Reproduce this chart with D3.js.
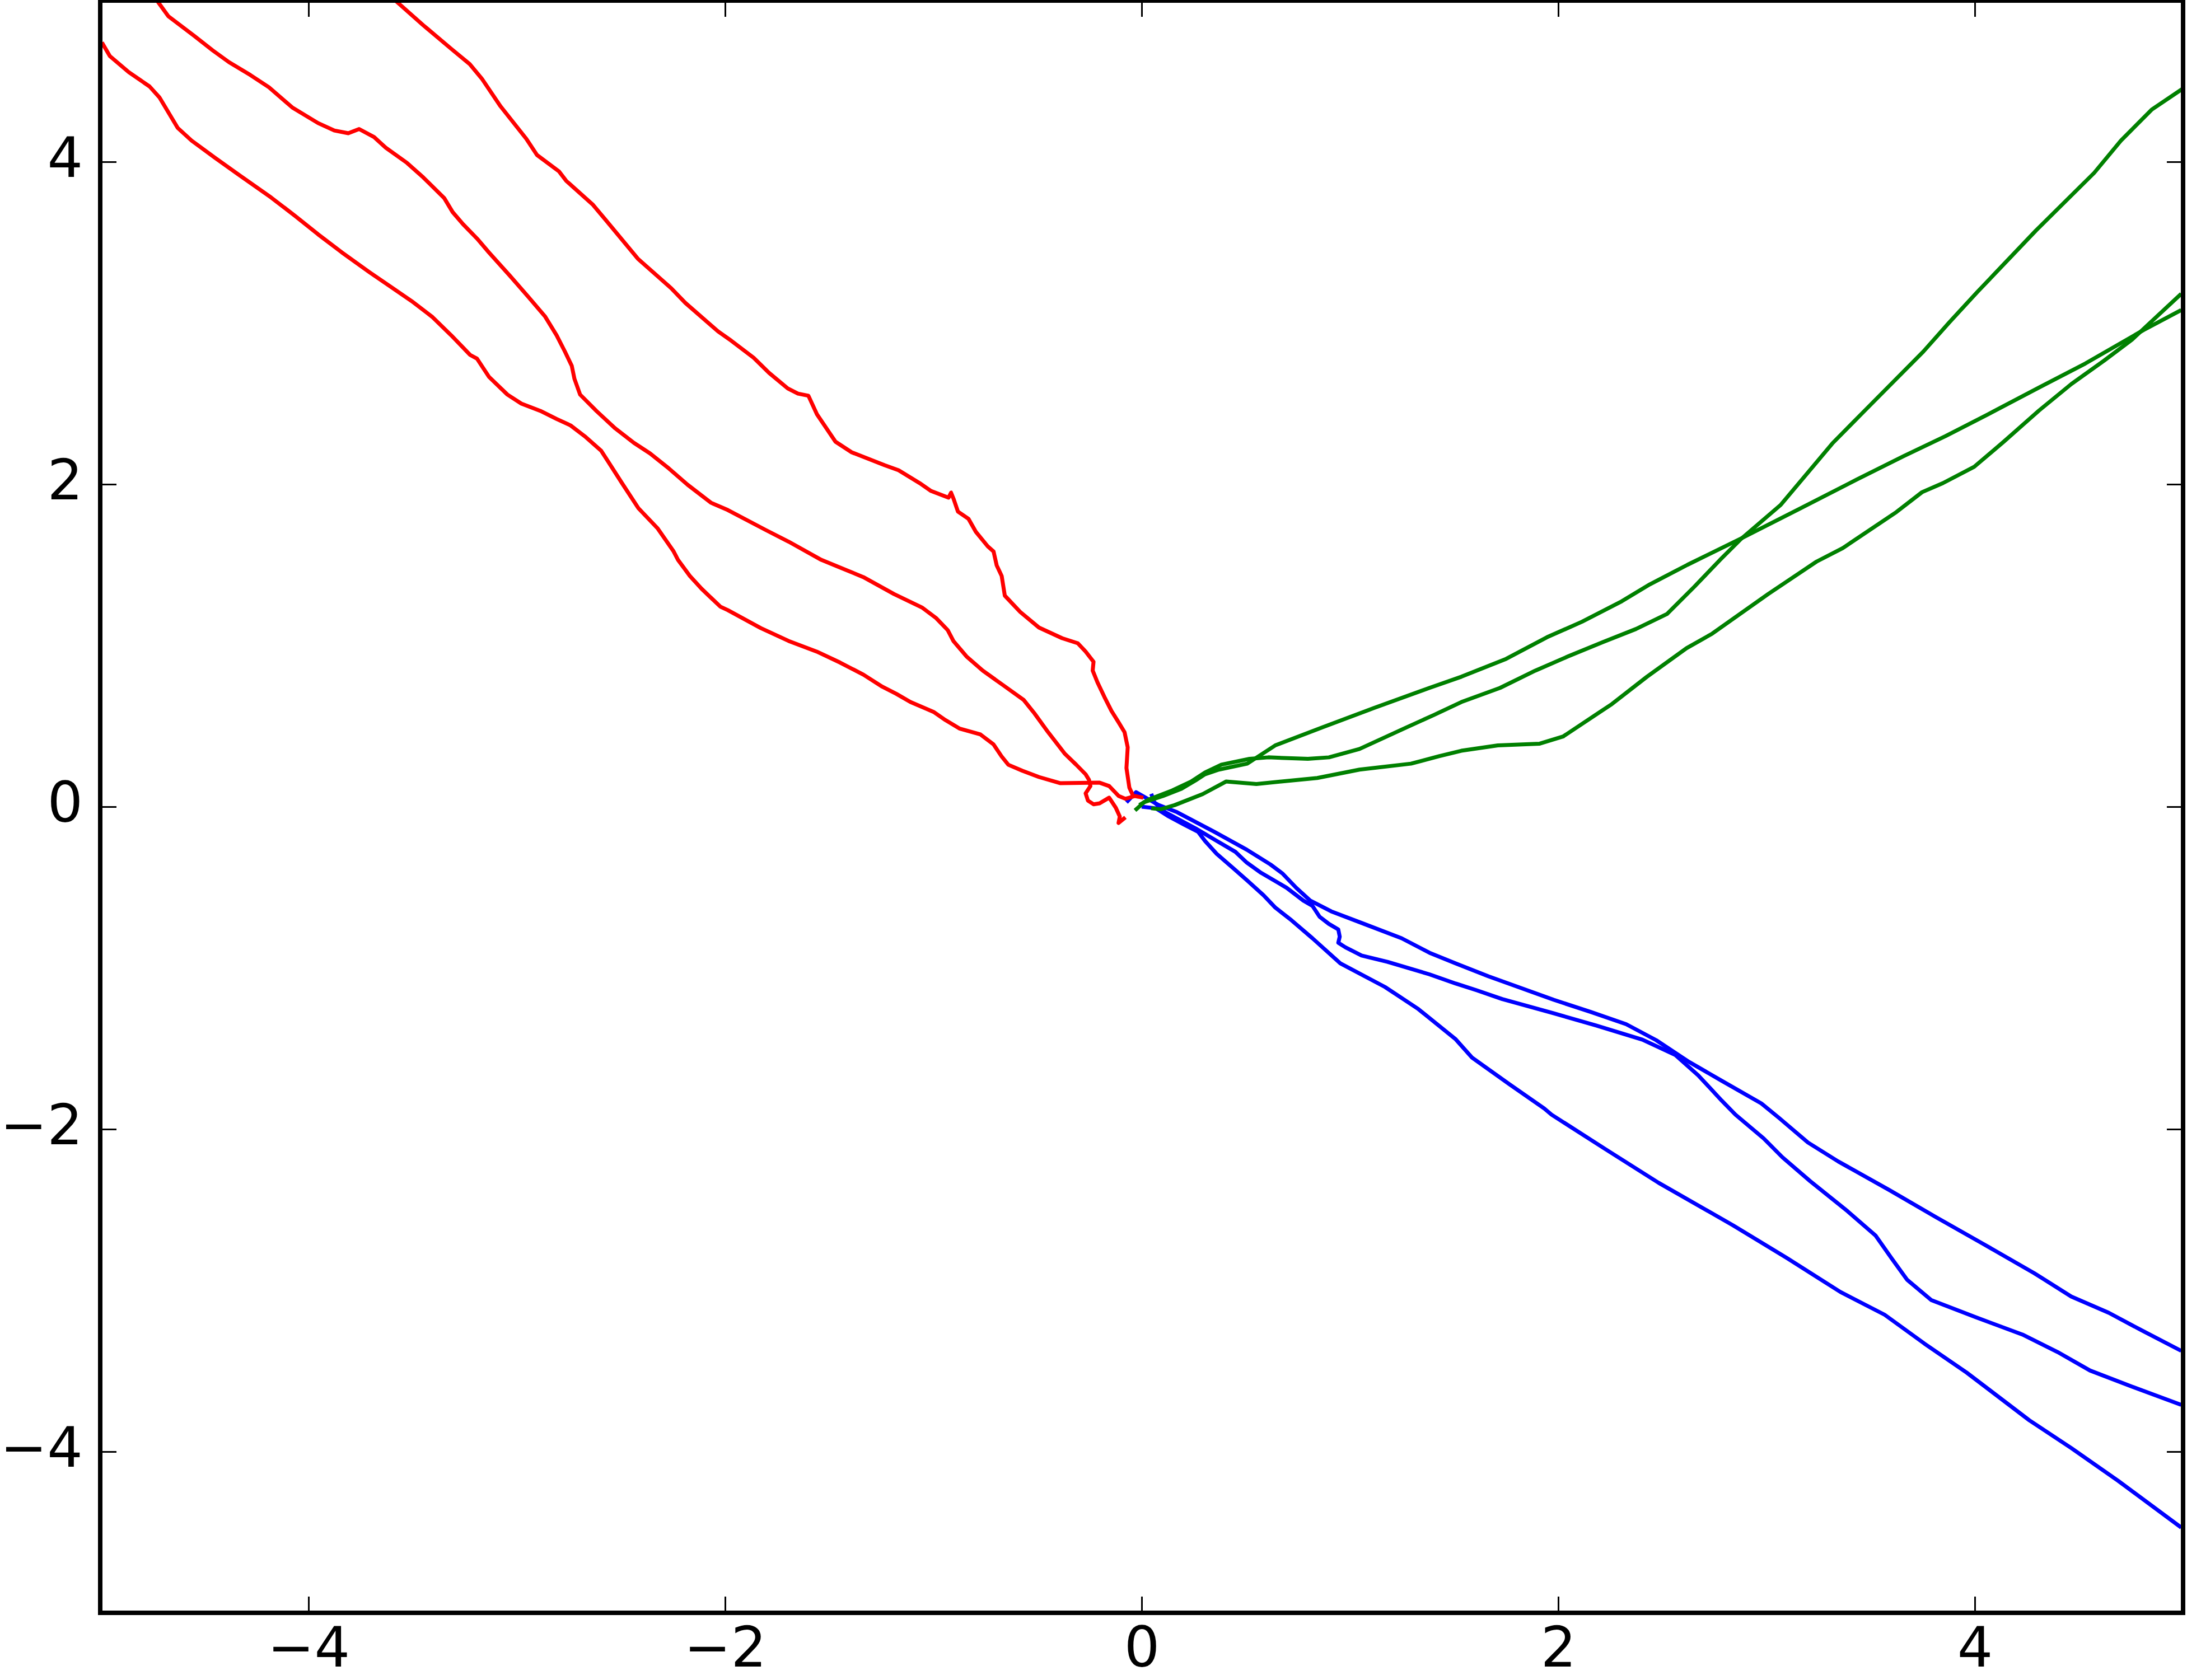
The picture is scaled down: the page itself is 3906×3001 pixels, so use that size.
<!DOCTYPE html>
<html>
<head>
<meta charset="utf-8">
<script src="https://cdn.jsdelivr.net/npm/d3@7"></script>
<style>
  html, body { margin: 0; padding: 0; background: #ffffff; }
  svg { display: block; }
</style>
</head>
<body>
<div id="chart"></div>
<script>
// ---- data ----
const xTicks = [-4, -2, 0, 2, 4];
const yTicks = [-4, -2, 0, 2, 4];
const xDomain = [-5, 5];
const yDomain = [-5, 5];

const redA = [[-0.043,0.073],[-0.059,0.118],[-0.073,0.240],[-0.067,0.368],[-0.082,0.462],[-0.111,0.524],[-0.145,0.594],[-0.179,0.681],[-0.212,0.771],[-0.235,0.844],[-0.231,0.899],[-0.269,0.962],[-0.307,1.014],[-0.382,1.045],[-0.493,1.111],[-0.583,1.208],[-0.657,1.309],[-0.672,1.431],[-0.696,1.497],[-0.711,1.583],[-0.739,1.615],[-0.796,1.705],[-0.831,1.785],[-0.882,1.830],[-0.902,1.906],[-0.915,1.948],[-0.927,1.917],[-1.011,1.958],[-1.066,2.007],[-1.167,2.087],[-1.234,2.118],[-1.392,2.198],[-1.470,2.264],[-1.559,2.434],[-1.600,2.549],[-1.650,2.562],[-1.699,2.594],[-1.789,2.691],[-1.863,2.785],[-1.970,2.890],[-2.034,2.948],[-2.191,3.125],[-2.258,3.215],[-2.419,3.399],[-2.573,3.639],[-2.634,3.733],[-2.763,3.882],[-2.798,3.941],[-2.903,4.042],[-2.954,4.142],[-3.078,4.344],[-3.168,4.516],[-3.226,4.606],[-3.315,4.701],[-3.449,4.847],[-3.583,5.000]];

const redB = [[-0.078,-0.066],[-0.111,-0.101],[-0.105,-0.061],[-0.124,-0.007],[-0.156,0.056],[-0.202,0.021],[-0.231,0.015],[-0.258,0.038],[-0.269,0.083],[-0.246,0.128],[-0.253,0.167],[-0.269,0.201],[-0.314,0.260],[-0.370,0.330],[-0.449,0.462],[-0.516,0.581],[-0.567,0.663],[-0.661,0.750],[-0.763,0.844],[-0.841,0.932],[-0.904,1.028],[-0.931,1.095],[-0.987,1.170],[-1.055,1.236],[-1.189,1.319],[-1.336,1.424],[-1.538,1.531],[-1.695,1.644],[-1.806,1.717],[-1.987,1.840],[-2.067,1.885],[-2.180,1.997],[-2.269,2.097],[-2.360,2.191],[-2.438,2.257],[-2.528,2.347],[-2.618,2.455],[-2.696,2.556],[-2.723,2.653],[-2.736,2.734],[-2.769,2.823],[-2.809,2.924],[-2.865,3.042],[-2.943,3.160],[-3.033,3.293],[-3.134,3.438],[-3.191,3.524],[-3.258,3.613],[-3.308,3.688],[-3.348,3.774],[-3.449,3.903],[-3.527,3.993],[-3.629,4.087],[-3.685,4.153],[-3.757,4.203],[-3.809,4.177],[-3.876,4.194],[-3.954,4.240],[-4.078,4.337],[-4.190,4.462],[-4.279,4.538],[-4.382,4.618],[-4.460,4.691],[-4.549,4.781],[-4.673,4.903],[-4.729,5.003]];

const redC = [[0.008,0.056],[-0.032,0.066],[-0.078,0.049],[-0.111,0.067],[-0.156,0.128],[-0.202,0.149],[-0.392,0.146],[-0.493,0.184],[-0.573,0.223],[-0.640,0.260],[-0.673,0.313],[-0.711,0.386],[-0.774,0.448],[-0.875,0.485],[-0.942,0.537],[-0.999,0.588],[-1.110,0.649],[-1.178,0.700],[-1.245,0.744],[-1.336,0.819],[-1.448,0.894],[-1.560,0.962],[-1.695,1.028],[-1.829,1.108],[-1.987,1.219],[-2.023,1.241],[-2.113,1.352],[-2.169,1.431],[-2.226,1.531],[-2.247,1.583],[-2.325,1.728],[-2.416,1.851],[-2.495,2.007],[-2.562,2.142],[-2.595,2.208],[-2.674,2.298],[-2.742,2.365],[-2.809,2.405],[-2.887,2.455],[-2.978,2.500],[-3.045,2.556],[-3.134,2.667],[-3.191,2.779],[-3.224,2.802],[-3.315,2.924],[-3.404,3.036],[-3.505,3.136],[-3.707,3.315],[-3.841,3.439],[-3.954,3.550],[-4.066,3.666],[-4.179,3.778],[-4.334,3.919],[-4.448,4.024],[-4.561,4.131],[-4.628,4.210],[-4.716,4.400],[-4.763,4.467],[-4.863,4.556],[-4.954,4.656],[-4.992,4.740]];

const greenA = [[-0.011,0.010],[0.035,0.045],[0.147,0.101],[0.237,0.156],[0.304,0.212],[0.383,0.261],[0.518,0.297],[0.608,0.306],[0.798,0.297],[0.899,0.306],[1.046,0.358],[1.270,0.491],[1.405,0.570],[1.535,0.649],[1.721,0.737],[1.890,0.844],[2.047,0.932],[2.216,1.022],[2.373,1.102],[2.523,1.196],[2.654,1.365],[2.777,1.531],[2.878,1.661],[3.069,1.873],[3.316,2.253],[3.462,2.444],[3.608,2.634],[3.753,2.823],[3.877,3.003],[4.012,3.192],[4.293,3.573],[4.573,3.931],[4.702,4.132],[4.849,4.323],[5.000,4.455]];

const greenB = [[-0.032,-0.023],[0.012,0.028],[0.102,0.066],[0.191,0.111],[0.259,0.163],[0.304,0.201],[0.371,0.230],[0.507,0.267],[0.641,0.380],[0.866,0.491],[1.113,0.611],[1.382,0.737],[1.535,0.806],[1.750,0.917],[1.946,1.051],[2.114,1.147],[2.305,1.274],[2.440,1.379],[2.620,1.500],[2.874,1.661],[3.164,1.851],[3.433,2.029],[3.658,2.174],[3.859,2.298],[4.061,2.432],[4.309,2.600],[4.531,2.749],[4.811,2.957],[4.991,3.080]];

const greenC = [[0.046,-0.010],[0.091,-0.016],[0.159,0.010],[0.293,0.078],[0.405,0.156],[0.551,0.141],[0.843,0.178],[1.046,0.230],[1.293,0.267],[1.427,0.313],[1.535,0.347],[1.710,0.380],[1.911,0.391],[2.023,0.435],[2.258,0.637],[2.426,0.806],[2.616,0.983],[2.739,1.073],[3.008,1.319],[3.240,1.520],[3.366,1.604],[3.624,1.828],[3.747,1.951],[3.847,2.007],[3.997,2.108],[4.139,2.264],[4.309,2.458],[4.464,2.622],[4.621,2.767],[4.755,2.897],[4.823,2.979],[4.991,3.181]];

const blueA = [[-0.073,0.027],[-0.027,0.090],[0.080,0.011],[0.170,-0.034],[0.349,-0.156],[0.505,-0.267],[0.618,-0.358],[0.675,-0.413],[0.742,-0.503],[0.809,-0.582],[0.910,-0.649],[1.068,-0.727],[1.248,-0.816],[1.382,-0.906],[1.508,-0.972],[1.665,-1.052],[1.822,-1.125],[1.979,-1.198],[2.158,-1.274],[2.326,-1.349],[2.470,-1.448],[2.628,-1.583],[2.785,-1.700],[2.975,-1.840],[3.060,-1.930],[3.199,-2.083],[3.344,-2.200],[3.590,-2.378],[3.815,-2.547],[4.038,-2.710],[4.285,-2.893],[4.463,-3.038],[4.643,-3.139],[4.800,-3.247],[4.991,-3.375]];

const blueB = [[0.046,0.080],[0.061,0.027],[0.113,-0.034],[0.259,-0.135],[0.360,-0.212],[0.450,-0.280],[0.505,-0.347],[0.573,-0.410],[0.696,-0.503],[0.776,-0.582],[0.820,-0.615],[0.854,-0.682],[0.899,-0.727],[0.944,-0.761],[0.951,-0.806],[0.944,-0.844],[0.978,-0.872],[1.056,-0.923],[1.180,-0.962],[1.382,-1.040],[1.508,-1.097],[1.609,-1.139],[1.731,-1.193],[1.979,-1.282],[2.180,-1.356],[2.404,-1.445],[2.561,-1.539],[2.672,-1.666],[2.785,-1.823],[2.851,-1.910],[2.985,-2.056],[3.076,-2.174],[3.210,-2.323],[3.389,-2.509],[3.523,-2.659],[3.602,-2.804],[3.675,-2.934],[3.792,-3.061],[4.005,-3.167],[4.229,-3.274],[4.397,-3.382],[4.553,-3.497],[4.755,-3.597],[4.991,-3.710]];

const blueC = [[0.000,0.000],[0.068,-0.010],[0.124,-0.056],[0.203,-0.111],[0.271,-0.156],[0.304,-0.212],[0.360,-0.292],[0.439,-0.381],[0.507,-0.458],[0.585,-0.549],[0.641,-0.625],[0.720,-0.705],[0.820,-0.816],[0.954,-0.972],[1.168,-1.118],[1.325,-1.252],[1.508,-1.443],[1.586,-1.556],[1.766,-1.722],[1.933,-1.872],[1.968,-1.910],[2.224,-2.122],[2.482,-2.333],[2.840,-2.597],[3.097,-2.799],[3.355,-3.010],[3.567,-3.151],[3.758,-3.330],[3.960,-3.509],[4.262,-3.806],[4.464,-3.979],[4.688,-4.181],[4.991,-4.471]];

const seriesList = [
  { name: "blueA", color: "#0000ff", values: blueA },
  { name: "blueB", color: "#0000ff", values: blueB },
  { name: "blueC", color: "#0000ff", values: blueC },
  { name: "redA", color: "#ff0000", values: redA },
  { name: "redB", color: "#ff0000", values: redB },
  { name: "redC", color: "#ff0000", values: redC },
  { name: "greenA", color: "#008000", values: greenA },
  { name: "greenB", color: "#008000", values: greenB },
  { name: "greenC", color: "#008000", values: greenC }
];

(function () {
  // ---- layout ----
  const W = 3906, H = 3001;
  const pL = 179, pR = 3899, pT = 1, pB = 2881;

  const svg = d3.select("#chart").append("svg")
    .attr("width", W).attr("height", H)
    .attr("viewBox", `0 0 ${W} ${H}`);

  svg.append("rect").attr("width", W).attr("height", H).attr("fill", "#fff");

  const x = d3.scaleLinear().domain(xDomain).range([pL, pR]);
  const y = d3.scaleLinear().domain(yDomain).range([pB, pT]);

  svg.append("defs").append("clipPath").attr("id", "plotclip")
    .append("rect").attr("x", pL).attr("y", pT)
    .attr("width", pR - pL).attr("height", pB - pT);

  const line = d3.line().x(d => x(d[0])).y(d => y(d[1]));

  const lines = svg.append("g").attr("clip-path", "url(#plotclip)");
  lines.selectAll("path").data(seriesList).join("path")
    .attr("d", d => line(d.values))
    .attr("fill", "none")
    .attr("stroke", d => d.color)
    .attr("stroke-width", 7)
    .attr("stroke-linejoin", "round")
    .attr("stroke-linecap", "butt");

  // ---- axes (ticks inward on all four sides) ----
  const tickLen = 29;
  const fmt = v => (v < 0 ? "\u2212" + Math.abs(v) : String(v));
  const fontFamily = "'DejaVu Sans', sans-serif";
  const fontSize = 100;

  const axBottom = d3.axisBottom(x).tickValues(xTicks).tickSizeInner(-tickLen).tickSizeOuter(0).tickFormat(fmt).tickPadding(0);
  const axTop = d3.axisTop(x).tickValues(xTicks).tickSizeInner(-tickLen).tickSizeOuter(0).tickFormat(() => "");
  const axLeft = d3.axisLeft(y).tickValues(yTicks).tickSizeInner(-tickLen).tickSizeOuter(0).tickFormat(fmt).tickPadding(0);
  const axRight = d3.axisRight(y).tickValues(yTicks).tickSizeInner(-tickLen).tickSizeOuter(0).tickFormat(() => "");

  function styleAxis(g) {
    g.select(".domain").remove();
    g.selectAll(".tick line").attr("stroke", "#000").attr("stroke-width", 3);
    g.selectAll(".tick text").attr("fill", "#000")
      .attr("font-family", fontFamily).attr("font-size", fontSize);
  }

  const gb = svg.append("g").attr("transform", `translate(0,${pB})`).call(axBottom).call(styleAxis);
  gb.selectAll(".tick text").attr("y", 96).attr("dy", null);

  svg.append("g").attr("transform", `translate(0,${pT})`).call(axTop).call(styleAxis);

  const gl = svg.append("g").attr("transform", `translate(${pL},0)`).call(axLeft).call(styleAxis);
  gl.selectAll(".tick text").attr("x", -31).attr("dy", null).attr("y", 26).attr("text-anchor", "end");

  svg.append("g").attr("transform", `translate(${pR},0)`).call(axRight).call(styleAxis);

  // frame
  svg.append("rect")
    .attr("x", pL).attr("y", pT)
    .attr("width", pR - pL).attr("height", pB - pT)
    .attr("fill", "none").attr("stroke", "#000").attr("stroke-width", 8);
})();
</script>
</body>
</html>
